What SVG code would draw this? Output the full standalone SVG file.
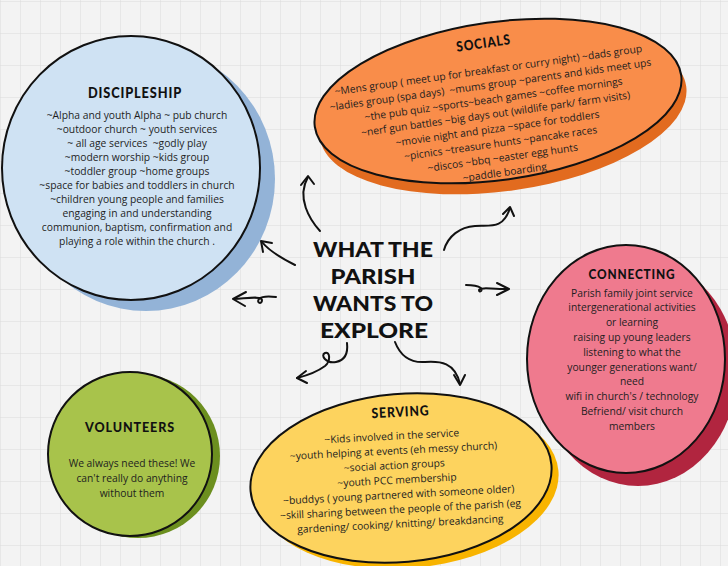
<svg xmlns="http://www.w3.org/2000/svg" width="728" height="566" viewBox="0 0 728 566">
<defs>
<pattern id="grid" width="20" height="32" patternUnits="userSpaceOnUse" x="0" y="1">
<rect width="20" height="32" fill="#f3f3f3"/>
<path d="M0 0H20M0 0V32" stroke="#dcdcdc" stroke-width="1" fill="none"/>
</pattern>
<style>
.body{font-family:"Open Sans","Liberation Sans",sans-serif;font-size:10.3px;fill:#1e1e1e;text-anchor:middle;white-space:pre}
.hd{font-family:Lato,"Liberation Sans",sans-serif;font-weight:900;fill:#111;text-anchor:middle;letter-spacing:1px}
.title{font-family:Lato,"Liberation Sans",sans-serif;font-weight:900;font-size:21.5px;fill:#111;text-anchor:middle}
.ol{stroke:#111;stroke-width:2}
.arr{fill:none;stroke:#111;stroke-width:2;stroke-linecap:round;stroke-linejoin:round}
</style>
</defs>
<rect width="728" height="566" fill="url(#grid)"/>

<g id="discipleship">
<ellipse cx="146" cy="179" rx="129" ry="132" fill="#93b3d7"/>
<ellipse cx="131" cy="168" rx="129" ry="132" fill="#cfe2f3" class="ol"/>
<text x="135" y="98" class="hd" font-size="15" textLength="94" lengthAdjust="spacingAndGlyphs">DISCIPLESHIP</text>
<text class="body"><tspan x="137" y="119">~Alpha and youth Alpha ~ pub church</tspan><tspan x="137" y="133">~outdoor church ~ youth services</tspan><tspan x="137" y="147">~ all age services  ~godly play</tspan><tspan x="137" y="161">~modern worship ~kids group</tspan><tspan x="137" y="175">~toddler group ~home groups</tspan><tspan x="137" y="189">~space for babies and toddlers in church</tspan><tspan x="137" y="203">~children young people and families</tspan><tspan x="137" y="217">engaging in and understanding</tspan><tspan x="137" y="231">communion, baptism, confirmation and</tspan><tspan x="137" y="245">playing a role within the church .</tspan></text>
</g>

<g id="socials">
<ellipse cx="503" cy="112" rx="185" ry="79" fill="#e26b1f" transform="rotate(-8 503 112)"/>
<ellipse cx="498" cy="101" rx="185" ry="79" fill="#f98d4a" class="ol" transform="rotate(-8 498 101)"/>
<g transform="rotate(-8 495 110)">
<text x="493" y="47" class="hd" font-size="14" textLength="55" lengthAdjust="spacingAndGlyphs">SOCIALS</text>
<text class="body" font-size="10.6"><tspan x="494" y="73">~Mens group ( meet up for breakfast or curry night) ~dads group</tspan><tspan x="494" y="87.8">~ladies group (spa days)  ~mums group ~parents and kids meet ups</tspan><tspan x="495" y="102.6">~the pub quiz ~sports~beach games ~coffee mornings</tspan><tspan x="495" y="117.4">~nerf gun battles ~big days out (wildlife park/ farm visits)</tspan><tspan x="495" y="132.2">~movie night and pizza ~space for toddlers</tspan><tspan x="496" y="147">~picnics ~treasure hunts ~pancake races</tspan><tspan x="496" y="161.8">~discos ~bbq ~easter egg hunts</tspan><tspan x="496" y="176.6">~paddle boarding</tspan></text>
</g>
</g>

<g id="connecting">
<ellipse cx="638" cy="372" rx="99" ry="114" fill="#b1253f"/>
<ellipse cx="626" cy="359" rx="99" ry="114" fill="#ef7a8e" class="ol"/>
<text x="632" y="278.5" class="hd" font-size="14" textLength="87" lengthAdjust="spacingAndGlyphs">CONNECTING</text>
<text class="body" font-size="10.5"><tspan x="632" y="296.5">Parish family joint service</tspan><tspan x="632" y="311.3">intergenerational activities</tspan><tspan x="632" y="326.1">or learning</tspan><tspan x="632" y="340.9">raising up young leaders</tspan><tspan x="632" y="355.7">listening to what the</tspan><tspan x="632" y="370.5">younger generations want/</tspan><tspan x="632" y="385.3">need</tspan><tspan x="632" y="400.1">wifi in church's / technology</tspan><tspan x="632" y="414.9">Befriend/ visit church</tspan><tspan x="632" y="429.7">members</tspan></text>
</g>

<g id="serving">
<ellipse cx="408" cy="484" rx="151" ry="84" fill="#f8b400" transform="rotate(-5 408 484)"/>
<ellipse cx="401" cy="478" rx="151" ry="84" fill="#fdd35e" class="ol" transform="rotate(-5 401 478)"/>
<g transform="rotate(-3 397 480)">
<text x="404" y="417" class="hd" font-size="14" textLength="58" lengthAdjust="spacingAndGlyphs">SERVING</text>
<text class="body" font-size="10.4"><tspan x="394" y="439.5">~Kids involved in the service</tspan><tspan x="395" y="454.2">~youth helping at events (eh messy church)</tspan><tspan x="395" y="468.9">~social action groups</tspan><tspan x="397" y="483.6">~youth PCC membership</tspan><tspan x="398" y="498.3">~buddys ( young partnered with someone older)</tspan><tspan x="399" y="513">~skill sharing between the people of the parish (eg</tspan><tspan x="398" y="527.7">gardening/ cooking/ knitting/ breakdancing</tspan></text>
</g>
</g>

<g id="volunteers">
<circle cx="138" cy="456" r="82" fill="#6c8f1f"/>
<circle cx="130" cy="454" r="82" fill="#a8c34b" class="ol"/>
<text x="130" y="431.5" class="hd" font-size="14" textLength="90" lengthAdjust="spacingAndGlyphs">VOLUNTEERS</text>
<text class="body" font-size="11"><tspan x="132" y="467">We always need these! We</tspan><tspan x="132" y="482">can't really do anything</tspan><tspan x="132" y="497">without them</tspan></text>
</g>

<g id="title">
<text x="373" y="257" class="title" textLength="120" lengthAdjust="spacingAndGlyphs">WHAT THE</text>
<text x="373" y="284" class="title" textLength="85" lengthAdjust="spacingAndGlyphs">PARISH</text>
<text x="373" y="311" class="title" textLength="120" lengthAdjust="spacingAndGlyphs">WANTS TO</text>
<text x="374" y="338" class="title" textLength="108" lengthAdjust="spacingAndGlyphs">EXPLORE</text>
</g>

<g id="connectors" class="arr">
<path d="M320,231 C310,220 296,198 308,177"/><path d="M301,185 L308,176 L314,184"/>
<path d="M295,265 C283,259 270,252 262,242"/><path d="M272,243 L261,241 L263,252"/>
<path d="M276,297 C268,296 262,296 259,299 C256,303 262,305 262,300 C261,296 250,298 234,299"/><path d="M246,292 L233,299 L245,306"/>
<path d="M444,250 C448,236 460,227 475,226 C490,225 503,230 510,208"/><path d="M503,214 L510,207 L514,216"/>
<path d="M466,285 C472,285 478,286 481,288 C483,291 479,293 479,290 C479,287 495,289 508,289"/><path d="M497,283 L509,289 L497,295"/>
<path d="M347,343 C348,352 346,360 336,362 C326,364 320,355 325,353 C330,351 331,361 325,366 C317,372 305,376 297,378"/><path d="M306,371 L297,378 L307,383"/>
<path d="M395,342 C400,355 410,363 425,362 C440,361 455,362 460,384"/><path d="M454,375 L460,385 L465,375"/>
</g>
</svg>
